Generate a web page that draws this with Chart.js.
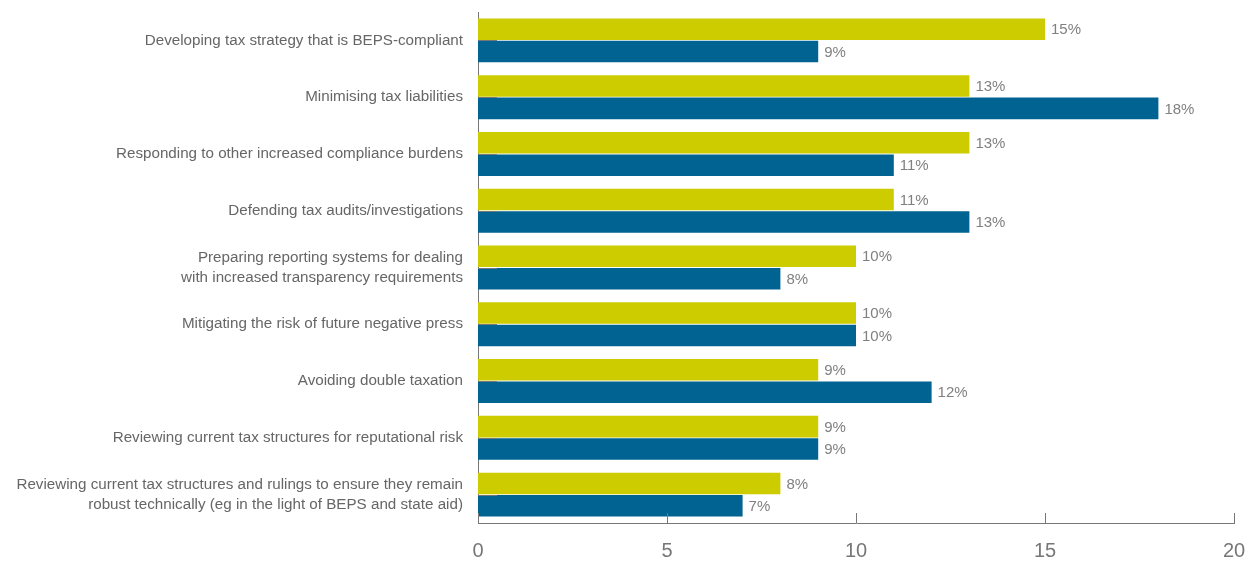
<!DOCTYPE html>
<html>
<head>
<meta charset="utf-8">
<script src="https://cdn.jsdelivr.net/npm/chart.js@4"></script>
<style>
  html, body { margin: 0; padding: 0; background: #fff; }
  #wrap { width: 1249px; height: 562px; position: relative; }
</style>
</head>
<body>
<div id="wrap"><canvas id="grafica"></canvas></div>
<script>
// categorias y series
const categorias = [
  "Developing tax strategy that is BEPS-compliant",
  "Minimising tax liabilities",
  "Responding to other increased compliance burdens",
  "Defending tax audits/investigations",
  ["Preparing reporting systems for dealing", "with increased transparency requirements"],
  "Mitigating the risk of future negative press",
  "Avoiding double taxation",
  "Reviewing current tax structures for reputational risk",
  ["Reviewing current tax structures and rulings to ensure they remain", "robust technically (eg in the light of BEPS and state aid)"]
];
const serieAmarilla = [15, 13, 13, 11, 10, 10, 9, 9, 8];
const serieAzul = [9, 18, 11, 13, 8, 10, 12, 9, 7];
const ticksX = [0, 5, 10, 15, 20];

// etiquetas de valor al final de cada barra
const etiquetasValor = {
  id: "etiquetasValor",
  afterDatasetsDraw(chart) {
    const ctx = chart.ctx;
    ctx.save();
    ctx.font = "15px 'Liberation Sans', Arial, sans-serif";
    ctx.fillStyle = "#808080";
    ctx.textAlign = "left";
    ctx.textBaseline = "middle";
    chart.data.datasets.forEach((ds, i) => {
      chart.getDatasetMeta(i).data.forEach((bar, j) => {
        ctx.fillText(ds.data[j] + "%", bar.x + 6, bar.y + 1);
      });
    });
    ctx.restore();
  }
};

// marcas cortas hacia adentro en ambos ejes
const marcasInternas = {
  id: "marcasInternas",
  afterDatasetsDraw(chart) {
    const ctx = chart.ctx;
    const x = chart.scales.x, y = chart.scales.y;
    ctx.save();
    ctx.strokeStyle = "#777";
    ctx.lineWidth = 1;
    ctx.beginPath();
    ticksX.forEach(v => {
      const px = Math.round(x.getPixelForValue(v)) + 0.5;
      ctx.moveTo(px, y.bottom);
      ctx.lineTo(px, y.bottom - 10);
    });
    categorias.forEach((c, i) => {
      const py = Math.round(y.getPixelForValue(i)) + 0.5;
      ctx.moveTo(x.left, py);
      ctx.lineTo(x.left + 19, py);
    });
    ctx.stroke();
    ctx.restore();
  }
};

const ctx = document.getElementById("grafica").getContext("2d");
new Chart(ctx, {
  type: "bar",
  data: {
    labels: categorias,
    datasets: [
      {
        label: "A",
        data: serieAmarilla,
        backgroundColor: "#cccc00",
        categoryPercentage: 0.79,
        barPercentage: 0.96
      },
      {
        label: "B",
        data: serieAzul,
        backgroundColor: "#006391",
        categoryPercentage: 0.79,
        barPercentage: 0.96
      }
    ]
  },
  options: {
    indexAxis: "y",
    responsive: true,
    maintainAspectRatio: false,
    animation: false,
    layout: { padding: { top: 12, right: 15, bottom: 0, left: 0 } },
    plugins: {
      legend: { display: false },
      tooltip: { enabled: false }
    },
    scales: {
      x: {
        min: 0,
        max: 20,
        afterBuildTicks: s => { s.ticks = ticksX.map(v => ({ value: v })); },
        afterFit: s => { s.height = 39; s.paddingLeft = 0; s.paddingRight = 0; },
        grid: { display: false, drawTicks: false },
        border: { display: true, color: "#777", width: 1 },
        ticks: {
          color: "#777",
          padding: 16,
          font: { family: "'Liberation Sans', Arial, sans-serif", size: 20 }
        }
      },
      y: {
        afterFit: s => { s.width = 478; s.paddingTop = 0; s.paddingBottom = 0; },
        grid: { display: false, drawTicks: false },
        border: { display: true, color: "#777", width: 1 },
        ticks: {
          color: "#666",
          padding: 15,
          font: { family: "'Liberation Sans', Arial, sans-serif", size: 15.2, lineHeight: 1.32 }
        }
      }
    }
  },
  plugins: [etiquetasValor, marcasInternas]
});
</script>
</body>
</html>
